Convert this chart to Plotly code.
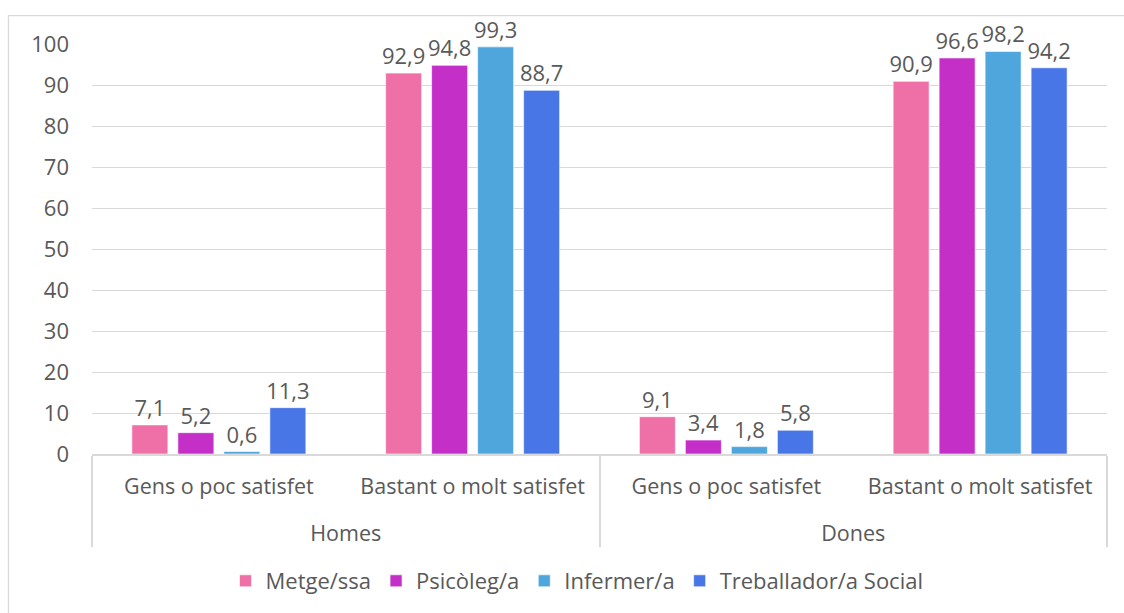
import plotly.graph_objects as go

groups = ["Homes", "Homes", "Dones", "Dones"]
categories = ["Gens o poc satisfet", "Bastant o molt satisfet",
              "Gens o poc satisfet", "Bastant o molt satisfet"]

series_names = ["Metge/ssa", "Psicòleg/a", "Infermer/a", "Treballador/a Social"]
metge = [7.1, 92.9, 9.1, 90.9]
psicoleg = [5.2, 94.8, 3.4, 96.6]
infermer = [0.6, 99.3, 1.8, 98.2]
treballador = [11.3, 88.7, 5.8, 94.2]
series_values = [metge, psicoleg, infermer, treballador]
colors = ["#EE70A7", "#C42FC8", "#4EA6DC", "#4876E6"]

y_ticks = list(range(0, 101, 10))

TXT = "#595959"
GRID = "#D9D9D9"
FONT = "Open Sans"

W, H = 1124, 613
L, R, T, B = 92, 17, 44, 158
pw, ph = W - L - R, H - T - B

# push the outer-level labels one line lower, as in the reference
group_labels = ["<br>" + g for g in groups]

fig = go.Figure()
for name, vals, col in zip(series_names, series_values, colors):
    fig.add_trace(go.Bar(
        name=name,
        x=[group_labels, categories],
        y=vals,
        marker=dict(color=col, line=dict(color="rgba(255,255,255,0.6)", width=1)),
        texttemplate="%{y:.1f}",
        textposition="outside",
        outsidetextfont=dict(family=FONT, size=22, color=TXT),
        constraintext="none",
        cliponaxis=False,
        hoverinfo="skip",
    ))

fig.update_layout(
    width=W, height=H,
    margin=dict(l=L, r=R, t=T, b=B, pad=0),
    paper_bgcolor="white", plot_bgcolor="white",
    separators=", ",
    barmode="group",
    bargap=0.275,
    bargroupgap=0.217,
    font=dict(family=FONT, size=22, color=TXT),
    showlegend=True,
    legend=dict(
        orientation="h",
        x=(577 - L) / pw, xanchor="center",
        y=(455 - 581) / ph, yanchor="middle",
        font=dict(family=FONT, size=22, color=TXT),
        itemwidth=30,
        traceorder="normal",
        bgcolor="rgba(0,0,0,0)",
    ),
    xaxis=dict(
        type="multicategory",
        showline=True, linecolor=GRID, linewidth=1.5,
        showgrid=False,
        ticks="",
        showdividers=True, dividercolor=GRID, dividerwidth=1.5,
        tickfont=dict(family=FONT, size=21.5, color=TXT),
        ticklabelstandoff=12,
        automargin=False,
    ),
    yaxis=dict(
        range=[0, 100],
        tickvals=y_ticks,
        showgrid=True, gridcolor=GRID, gridwidth=1.3,
        zeroline=False,
        showline=False,
        ticks="",
        ticklabelstandoff=22,
        tickfont=dict(family=FONT, size=22, color=TXT),
        automargin=False,
    ),
    shapes=[dict(
        type="rect", xref="paper", yref="paper",
        x0=(8.5 - L) / pw, x1=1.5,
        y0=-1.0, y1=(455 - 15.5) / ph,
        line=dict(color=GRID, width=1.3),
        fillcolor="rgba(0,0,0,0)",
        layer="below",
    )],
)

fig.write_html("out.html", config={"displayModeBar": False},
               post_script="document.body.style.margin='0';")
